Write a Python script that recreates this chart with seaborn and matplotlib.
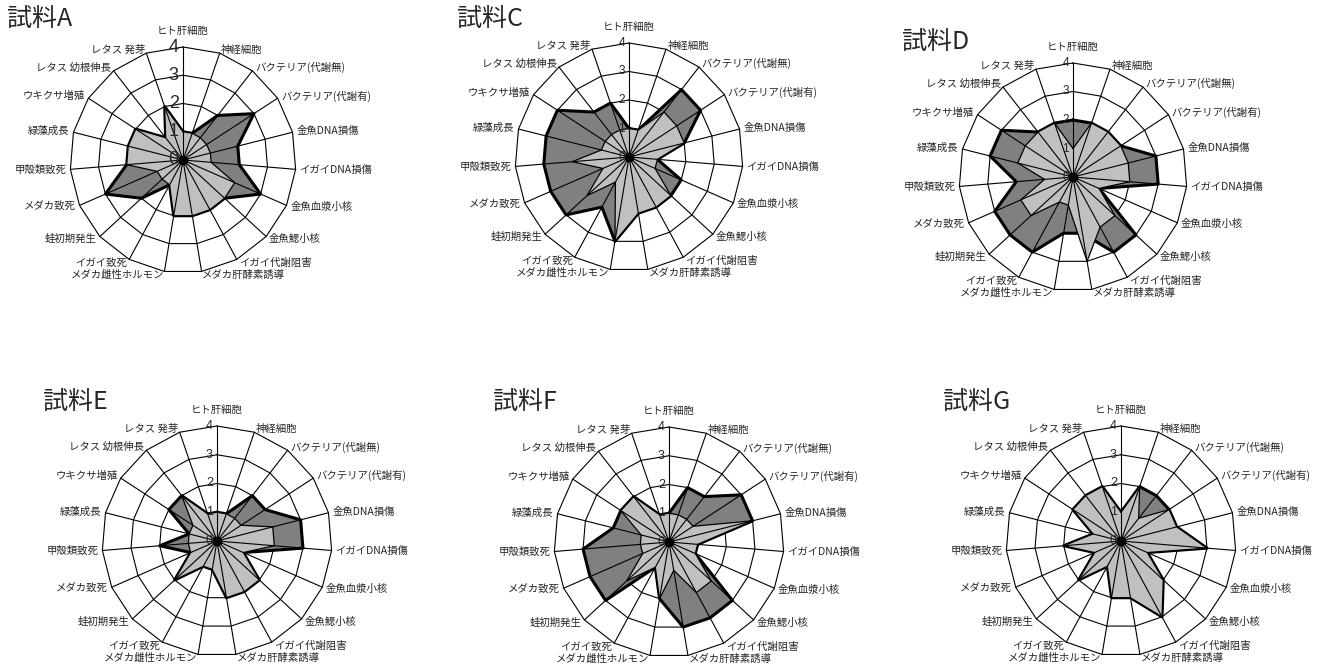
import numpy as np
import matplotlib
matplotlib.use('Agg')
import matplotlib.pyplot as plt
import seaborn as sns

# 19 test items, clockwise from the top
categories = ['ヒト肝細胞', '神経細胞', 'バクテリア(代謝無)', 'バクテリア(代謝有)',
              '金魚DNA損傷', 'イガイDNA損傷', '金魚血漿小核', '金魚鰓小核',
              'イガイ代謝阻害', 'メダカ肝酵素誘導', 'メダカ雌性ホルモン', 'イガイ致死',
              '蛙初期発生', 'メダカ致死', '甲殻類致死', '緑藻成長',
              'ウキクサ増殖', 'レタス 幼根伸長', 'レタス 発芽']
ticks = [0, 1, 2, 3, 4]

# scores (dark = back series, light = front series)
a_dark = [1, 1, 2, 3, 2, 2, 3, 2, 2, 2, 2, 1, 2, 3, 2, 2, 2, 1, 2]
a_light = [1, 1, 1, 1, 1, 1, 2, 2, 2, 2, 2, 1, 1, 1, 2, 2, 2, 1, 2]
c_dark = [1, 1, 3, 3, 2, 1, 2, 2, 2, 2, 3, 2, 3, 3, 3, 3, 3, 2, 2]
c_light = [1, 1, 2, 2, 2, 1, 1, 2, 2, 2, 3, 1, 2, 1, 2, 1, 1, 1, 1]
d_dark = [2, 2, 2, 2, 3, 3, 1, 3, 3, 2, 2, 3, 3, 3, 2, 3, 3, 2, 2]
d_light = [1, 2, 2, 2, 2, 2, 1, 2, 2, 3, 1, 1, 2, 2, 1, 2, 2, 2, 2]
e_dark = [1, 1, 2, 2, 3, 3, 1, 2, 2, 2, 1, 1, 2, 1, 2, 1, 2, 2, 1]
e_light = [1, 1, 1, 1, 2, 2, 1, 2, 2, 2, 1, 1, 2, 1, 1, 1, 1, 2, 1]
f_dark = [1, 2, 2, 3, 3, 1, 1, 3, 3, 3, 2, 1, 3, 3, 3, 2, 2, 2, 1]
f_light = [1, 1, 1, 1, 3, 1, 1, 2, 2, 1, 2, 1, 2, 1, 1, 1, 2, 2, 1]
g_dark = [1, 2, 2, 2, 2, 3, 1, 2, 3, 2, 2, 1, 2, 1, 2, 1, 2, 2, 2]
g_light = [1, 2, 1, 2, 2, 3, 1, 2, 3, 2, 2, 1, 2, 1, 2, 1, 2, 2, 2]

samples = ['試料A', '試料C', '試料D', '試料E', '試料F', '試料G']
dark_series = [a_dark, c_dark, d_dark, e_dark, f_dark, g_dark]
light_series = [a_light, c_light, d_light, e_light, f_light, g_light]

# placement in pixels: centre, radius of the 4-ring, tick font size, title spot
W, H = 1322, 666
layout = [
    dict(cx=183, cy=160, R=113, tfs=13, tx=7, ty=20),
    dict(cx=629, cy=157, R=114, tfs=8.5, tx=457, ty=20),
    dict(cx=1073, cy=177, R=114, tfs=8.5, tx=902, ty=43),
    dict(cx=217, cy=541, R=115, tfs=9, tx=43, ty=403),
    dict(cx=669, cy=542, R=115, tfs=9, tx=493, ty=403),
    dict(cx=1121, cy=541, R=115, tfs=9, tx=943, ty=403),
]

sns.set_theme(style='white')
plt.rcParams['font.family'] = ['Noto Sans CJK JP', 'DejaVu Sans']

dark_col = '#808080'
light_col = '#c0c0c0'

n = len(categories)
theta = np.arange(n) * 2 * np.pi / n
theta_c = np.append(theta, 2 * np.pi)

fig = plt.figure(figsize=(W / 100, H / 100), dpi=100)
fig.patch.set_facecolor('white')


def radar(name, dvals, lvals, cx, cy, R, tfs, tx, ty):
    ax = fig.add_axes([(cx - R) / W, 1 - (cy + R) / H, 2 * R / W, 2 * R / H],
                      projection='polar')
    ax.set_theta_zero_location('N')
    ax.set_theta_direction(-1)
    ax.axis('off')

    # polygon rings
    for r in ticks[1:]:
        ax.plot(theta_c, [r] * (n + 1), color='black', lw=0.8, zorder=1, clip_on=False)

    dc = np.append(dvals, dvals[0])
    lc = np.append(lvals, lvals[0])
    ax.fill(theta_c, dc, color=dark_col, lw=0, zorder=2)
    sns.lineplot(x=theta_c, y=dc, sort=False, estimator=None, color='black',
                 lw=2.2, ax=ax, zorder=3)
    ax.fill(theta_c, lc, color=light_col, lw=0, zorder=4)
    sns.lineplot(x=theta_c, y=lc, sort=False, estimator=None, color='black',
                 lw=0.9, ax=ax, zorder=5)

    # spokes
    for t in theta:
        ax.plot([t, t], [0, 4], color='black', lw=0.8, zorder=6, clip_on=False)
    ax.plot([0], [0], 'o', color='black', ms=6, zorder=7)
    ax.set_ylim(0, 4)
    ax.set_xlabel('')
    ax.set_ylabel('')

    # value axis labels
    for v in ticks:
        ax.annotate(str(v), xy=(0, v), xytext=(-3, 0), textcoords='offset points',
                    ha='right', va='center', fontsize=tfs, family='Liberation Sans',
                    zorder=8, annotation_clip=False)

    # category labels
    for t, lab in zip(theta, categories):
        s, c = np.sin(t), np.cos(t)
        if abs(s) < 0.05:
            ha, off = 'center', 16
        else:
            ha, off = ('left' if s > 0 else 'right'), 4
        ax.annotate(lab, xy=(t, 4), xytext=(off * s * 0.72, off * c * 0.72),
                    textcoords='offset points', ha=ha, va='center', fontsize=7.5,
                    zorder=8, annotation_clip=False)

    fig.text(tx / W, 1 - ty / H, name, ha='left', va='center', fontsize=18)


for name, dv, lv, lay in zip(samples, dark_series, light_series, layout):
    radar(name, dv, lv, **lay)

fig.savefig('out.png', dpi=100, facecolor='white')
